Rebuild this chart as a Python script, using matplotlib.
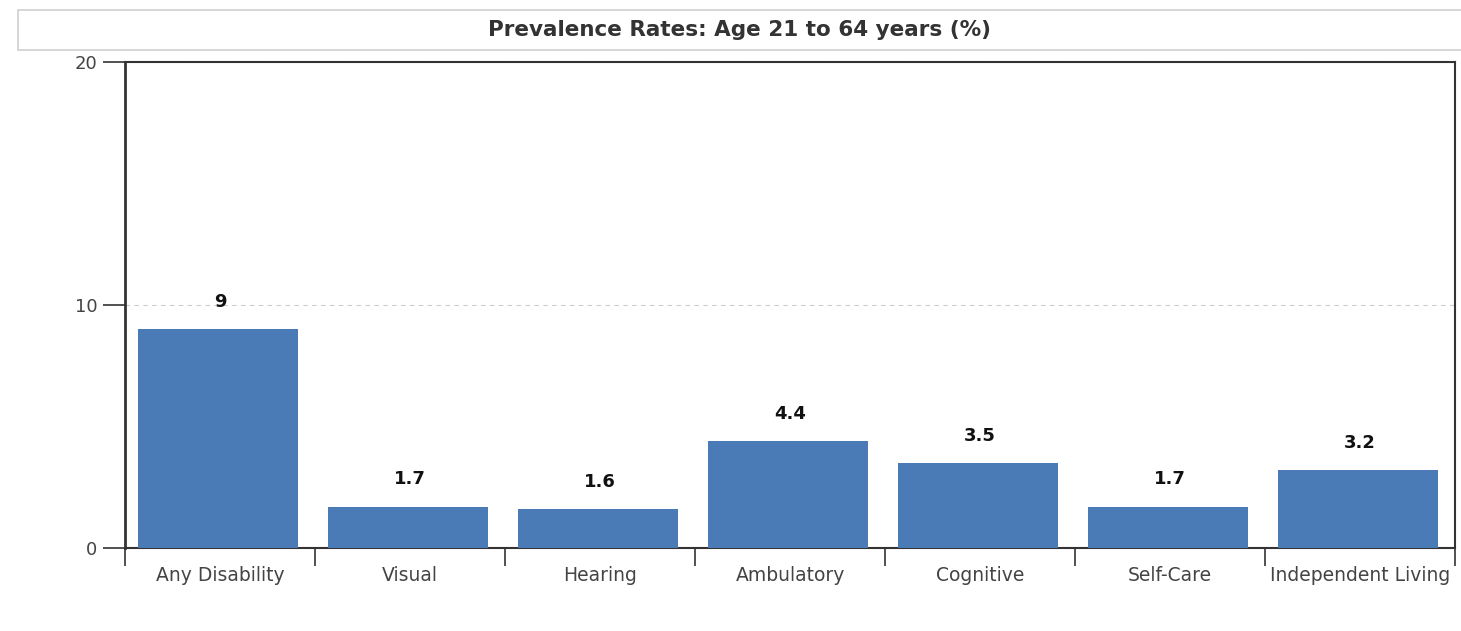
import matplotlib

matplotlib.use("Agg")
import matplotlib.pyplot as plt
from matplotlib.patches import Rectangle

categories = ["Any Disability", "Visual", "Hearing", "Ambulatory",
              "Cognitive", "Self-Care", "Independent Living"]
rates = [9, 1.7, 1.6, 4.4, 3.5, 1.7, 3.2]
rate_labels = ["9", "1.7", "1.6", "4.4", "3.5", "1.7", "3.2"]
y_ticks = [0, 10, 20]

plt.rcParams["font.family"] = ["DejaVu Sans"]

fig = plt.figure(figsize=(14.61, 6.31), dpi=100)
ax = fig.add_axes([0.0856, 0.1315, 0.9104, 0.7702])

x = list(range(len(categories)))
ax.bar([xi - 0.01 for xi in x], rates, width=0.84, color="#4a7bb7", zorder=3)
for xi, val, lab in zip(x, rates, rate_labels):
    ax.text(xi, val + 0.75, lab, ha="center", va="bottom",
            fontsize=13, fontweight="bold", color="#111111")

ax.set_xlim(-0.5, len(categories) - 0.5)
ax.set_ylim(0, 20)
ax.set_yticks(y_ticks)
ax.set_yticklabels([str(t) for t in y_ticks], fontsize=13, color="#444444")
ax.yaxis.grid(True, linestyle=(0, (4, 4)), color="#cccccc", linewidth=0.8, zorder=0)

# category ticks sit on the boundaries, labels centred in between
ax.set_xticks([i - 0.5 for i in range(len(categories) + 1)])
ax.set_xticklabels([])
ax.set_xticks(x, minor=True)
ax.set_xticklabels(categories, minor=True, fontsize=13.5, color="#444444")
ax.tick_params(axis="x", which="major", length=13, width=1.2, color="#333333")
ax.tick_params(axis="x", which="minor", length=0, pad=13)
ax.tick_params(axis="y", length=16, width=1.2, color="#333333", pad=4)

for side in ["left", "right", "top", "bottom"]:
    ax.spines[side].set_color("#333333")
ax.spines["left"].set_linewidth(2.0)
ax.spines["bottom"].set_linewidth(1.5)
ax.spines["right"].set_linewidth(1.5)
ax.spines["top"].set_linewidth(1.5)

# title in a light box across the top
fig.patches.append(Rectangle((0.0123, 0.9208), 1.0, 0.0634, transform=fig.transFigure,
                             facecolor="white", edgecolor="#cfcfcf", linewidth=1.2))
fig.text(0.5065, 0.9525, "Prevalence Rates: Age 21 to 64 years (%)", ha="center", va="center",
         fontsize=15.5, fontweight="bold", color="#333333")

fig.savefig("out.png", dpi=100)
